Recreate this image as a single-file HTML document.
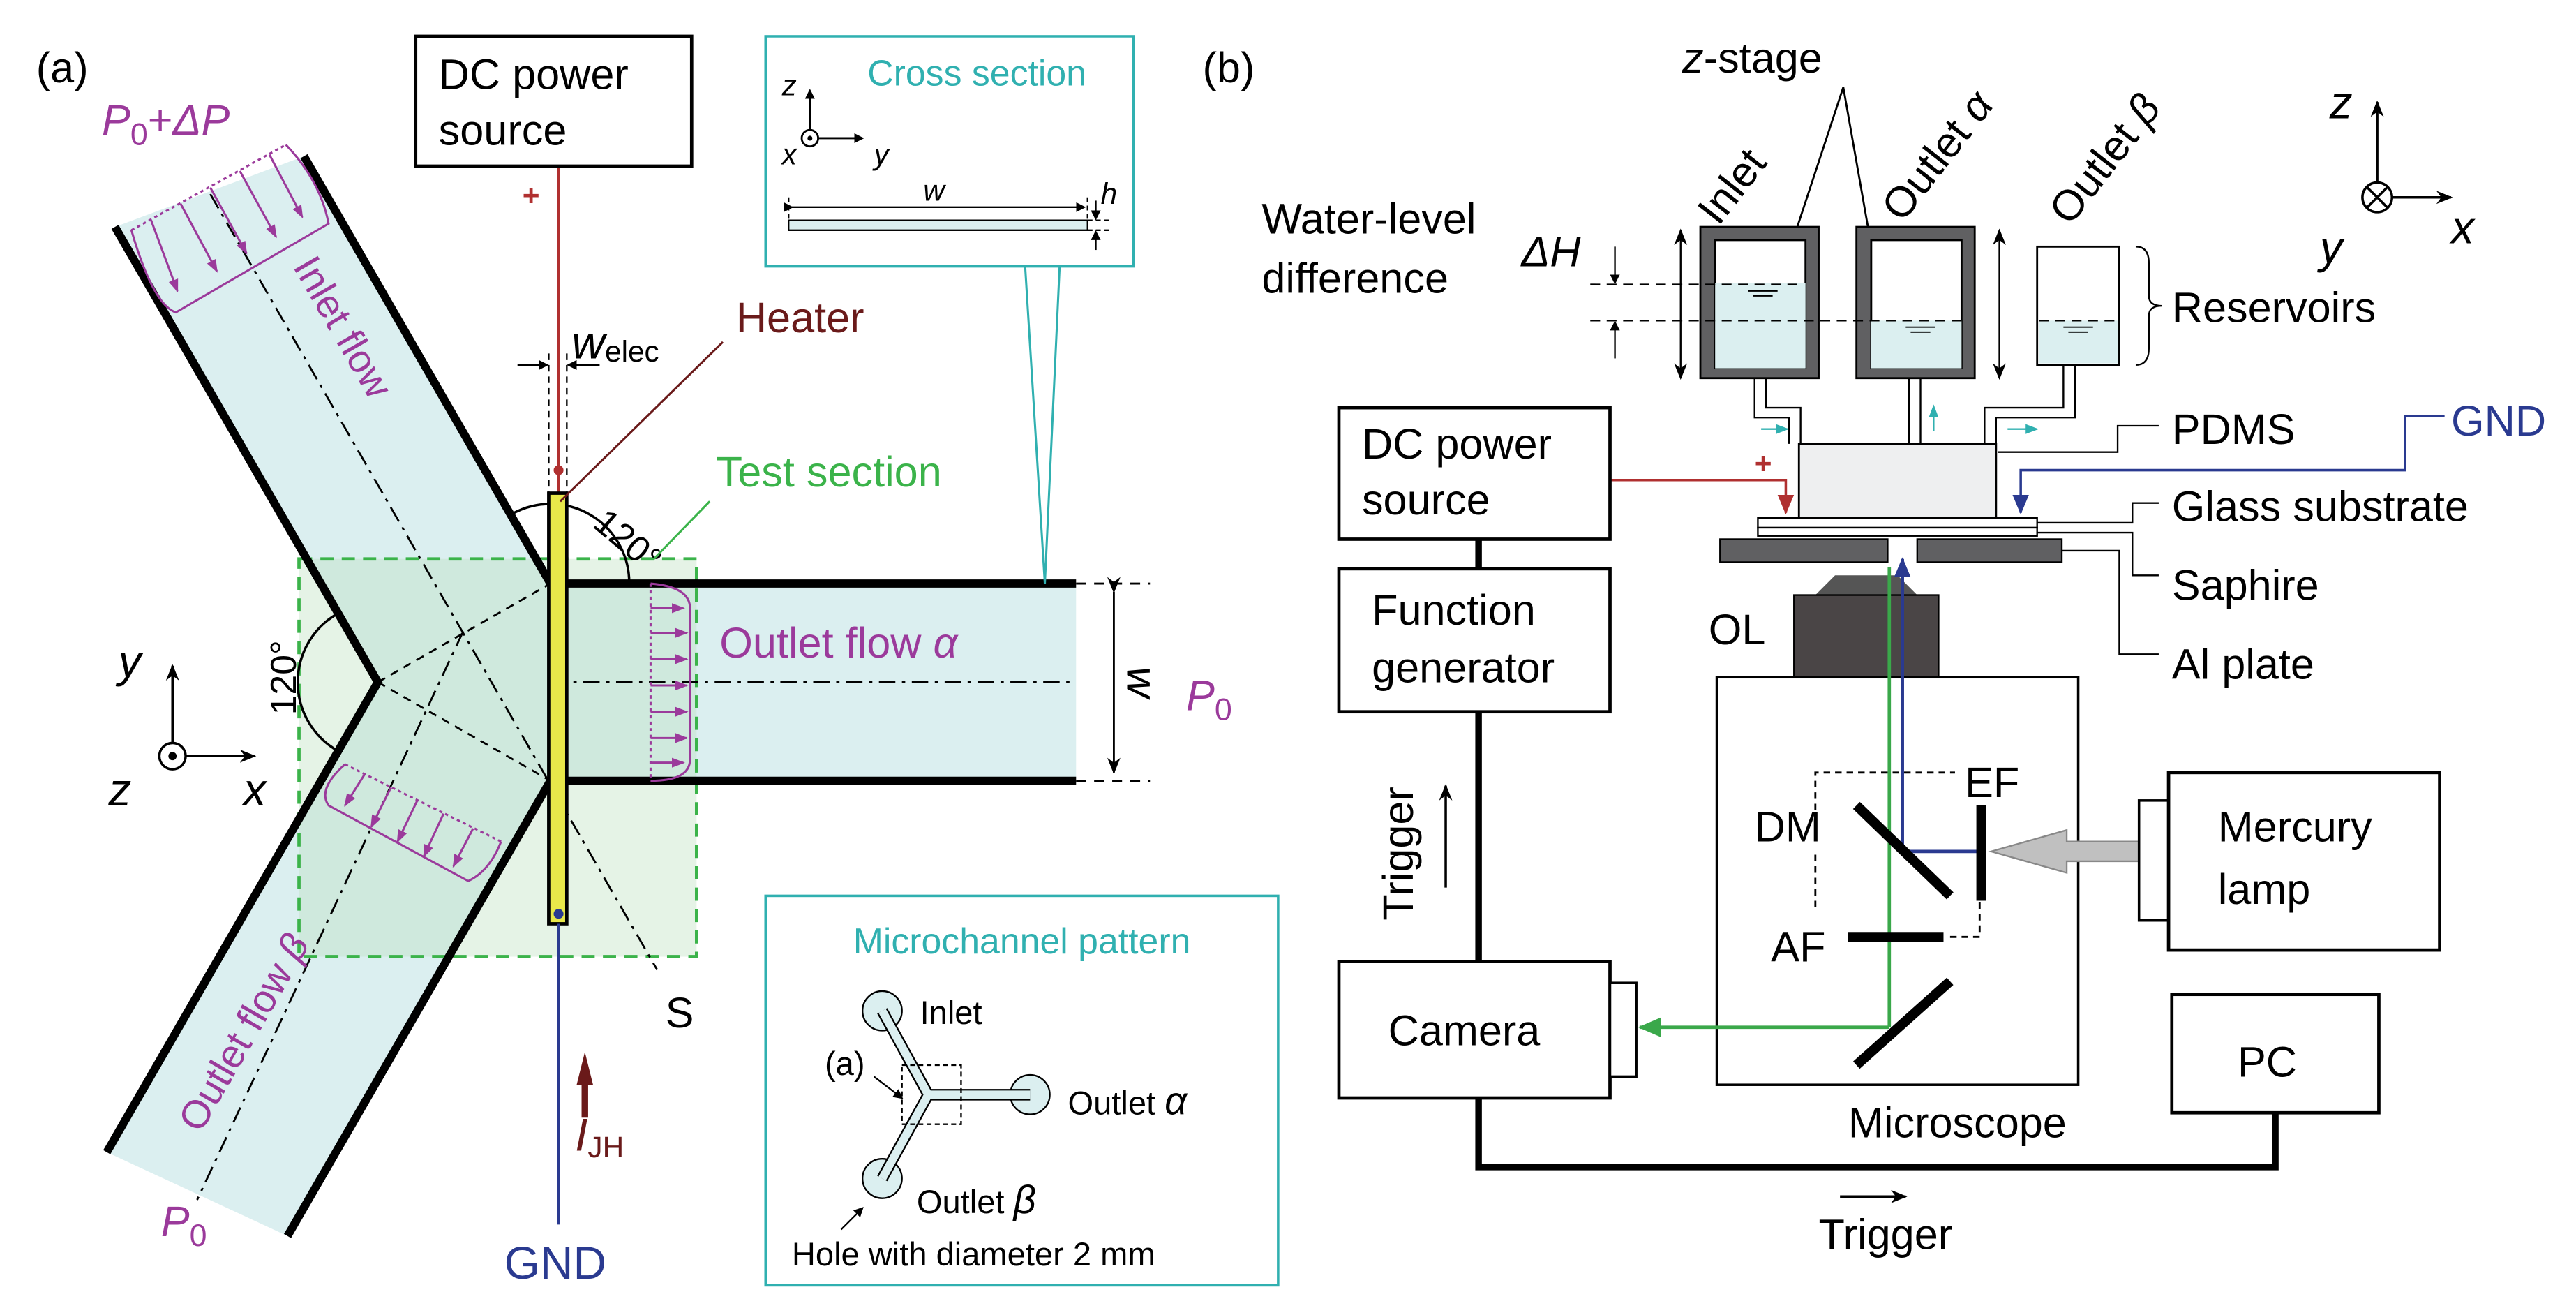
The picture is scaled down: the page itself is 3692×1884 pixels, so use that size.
<!DOCTYPE html>
<html><head><meta charset="utf-8"><style>
html,body{margin:0;padding:0;background:#fff}
svg{display:block}
text{font-family:"Liberation Sans",Arial,sans-serif}
</style></head><body>
<svg width="3692" height="1884" viewBox="0 0 1568 800" xmlns="http://www.w3.org/2000/svg">
<defs>
<marker id="ak" markerWidth="10" markerHeight="10" refX="9" refY="5" orient="auto" markerUnits="userSpaceOnUse"><path d="M0,1 L10,5 L0,9 L3,5z" fill="#000"/></marker>
<marker id="ap" markerWidth="8" markerHeight="8" refX="7" refY="4" orient="auto" markerUnits="userSpaceOnUse"><path d="M0,1 L8,4 L0,7z" fill="#9b3a9b"/></marker>
<marker id="ar" markerWidth="12" markerHeight="12" refX="11" refY="6" orient="auto" markerUnits="userSpaceOnUse"><path d="M0,1 L12,6 L0,11z" fill="#b03030"/></marker>
<marker id="ab" markerWidth="12" markerHeight="12" refX="11" refY="6" orient="auto" markerUnits="userSpaceOnUse"><path d="M0,1 L12,6 L0,11z" fill="#2a3a90"/></marker>
<marker id="ag" markerWidth="14" markerHeight="14" refX="13" refY="7" orient="auto" markerUnits="userSpaceOnUse"><path d="M0,1 L14,7 L0,13z" fill="#3aa84a"/></marker>
<marker id="at" markerWidth="8" markerHeight="8" refX="7" refY="4" orient="auto" markerUnits="userSpaceOnUse"><path d="M0,1 L8,4 L0,7z" fill="#30b0b0"/></marker>
<marker id="as" markerWidth="6" markerHeight="6" refX="5" refY="3" orient="auto" markerUnits="userSpaceOnUse"><path d="M0,0 L6,3 L0,6z" fill="#000"/></marker>
</defs>

<!-- ===== Panel (a) ===== -->
<text x="22" y="50" font-size="26">(a)</text>
<polygon points="70,138 185,95 335,355 655,355 655,475 335,475 175,752 65,701 230,415" fill="#dbeff0"/>
<rect x="182" y="340" width="242" height="242" fill="#bfe0c0" fill-opacity="0.4" stroke="#3bb34a" stroke-width="2" stroke-dasharray="8,5"/>
<g stroke="#000" stroke-width="5" fill="none">
<polyline points="185,95 335,355 655,355"/>
<polyline points="655,475 335,475 175,752"/>
<polyline points="70,138 230,415 65,701"/>
</g>
<g stroke="#000" stroke-width="1.2" fill="none" stroke-dasharray="10,4,2,4">
<line x1="128" y1="118" x2="400" y2="590"/>
<line x1="335" y1="415" x2="655" y2="415"/>
<line x1="282" y1="384" x2="120" y2="730"/>
<line x1="230" y1="415" x2="335" y2="355" stroke-dasharray="5,4"/>
<line x1="230" y1="415" x2="335" y2="475" stroke-dasharray="5,4"/>
</g>
<g stroke="#000" stroke-width="1.2" stroke-dasharray="6,5"><line x1="655" y1="355" x2="700" y2="355"/><line x1="655" y1="475" x2="700" y2="475"/></g>
<line x1="678" y1="360" x2="678" y2="470" stroke="#000" stroke-width="1.2" marker-start="url(#ak)" marker-end="url(#ak)"/>
<text x="0" y="0" font-size="26" font-style="italic" transform="translate(686,415) rotate(90)" text-anchor="middle">w</text>
<text x="722" y="432" font-size="26" font-style="italic" fill="#9b3a9b">P<tspan font-size="19" font-style="normal" dy="6">0</tspan></text>
<!-- arcs -->
<path d="M 311,313 A 48 48 0 0 1 383,355" fill="none" stroke="#000" stroke-width="1.5"/>
<path d="M 206,373 A 48 48 0 0 0 206,457" fill="none" stroke="#000" stroke-width="1.5"/>
<text x="0" y="0" font-size="22" transform="translate(360,320) rotate(40)">120°</text>
<text x="0" y="0" font-size="22" transform="translate(180,435) rotate(-90)">120°</text>
<!-- velocity profiles -->
<g stroke="#9b3a9b" stroke-width="1.3" fill="none">
<path d="M 80,140 Q 93,185 107,190 L 200,136 Q 195,110 174,88"/>
<line x1="80" y1="140" x2="174" y2="88" stroke-dasharray="2,2"/>
<g marker-end="url(#ap)">
<line x1="92" y1="134" x2="108" y2="177"/><line x1="110" y1="124" x2="132" y2="165"/><line x1="128" y1="114" x2="150" y2="154"/><line x1="146" y1="104" x2="168" y2="144"/><line x1="164" y1="94" x2="184" y2="132"/>
</g>
<path d="M 396,355 Q 420,357 420,370 L 420,462 Q 420,475 396,475"/>
<line x1="396" y1="355" x2="396" y2="475" stroke-dasharray="2,2"/>
<g marker-end="url(#ap)"><line x1="396" y1="370" x2="416" y2="370"/><line x1="396" y1="385" x2="418" y2="385"/><line x1="396" y1="401" x2="418" y2="401"/><line x1="396" y1="417" x2="418" y2="417"/><line x1="396" y1="433" x2="418" y2="433"/><line x1="396" y1="449" x2="418" y2="449"/><line x1="396" y1="464" x2="416" y2="464"/></g>
<path d="M 210,465 Q 193,480 200,490 L 285,536 Q 298,530 305,512"/>
<line x1="210" y1="465" x2="305" y2="512" stroke-dasharray="2,2"/>
<g marker-end="url(#ap)"><line x1="222" y1="471" x2="210" y2="490"/><line x1="238" y1="479" x2="226" y2="503"/><line x1="254" y1="487" x2="242" y2="512"/><line x1="270" y1="495" x2="258" y2="521"/><line x1="288" y1="504" x2="276" y2="527"/></g>
</g>
<text x="0" y="0" font-size="24" fill="#9b3a9b" transform="translate(178,162) rotate(60)">Inlet flow</text>
<text x="0" y="0" font-size="24" fill="#9b3a9b" transform="translate(122,690) rotate(-60)">Outlet flow <tspan font-style="italic">β</tspan></text>
<text x="438" y="400" font-size="26" fill="#9b3a9b">Outlet flow <tspan font-style="italic">α</tspan></text>
<text x="62" y="82" font-size="26" font-style="italic" fill="#9b3a9b">P<tspan font-size="19" font-style="normal" dy="6">0</tspan><tspan dy="-6" font-style="normal">+</tspan>ΔP</text>
<text x="98" y="752" font-size="26" font-style="italic" fill="#9b3a9b">P<tspan font-size="19" font-style="normal" dy="6">0</tspan></text>
<!-- heater -->
<line x1="340" y1="101" x2="340" y2="300" stroke="#b03030" stroke-width="2"/>
<text x="318" y="125" font-size="18" fill="#b03030" font-weight="bold">+</text>
<rect x="334" y="300" width="11" height="262" fill="#e8e84a" stroke="#000" stroke-width="2"/>
<circle cx="340" cy="286" r="3" fill="#b03030"/>
<circle cx="340" cy="556" r="3" fill="#2a3a90"/>
<line x1="340" y1="562" x2="340" y2="745" stroke="#2a3a90" stroke-width="2"/>
<text x="338" y="778" font-size="28" fill="#2a3a90" text-anchor="middle">GND</text>
<rect x="253" y="22" width="168" height="79" fill="#fff" stroke="#000" stroke-width="2"/>
<text x="267" y="54" font-size="26">DC power</text><text x="267" y="88" font-size="26">source</text>
<g stroke="#000" stroke-width="1" stroke-dasharray="4,3"><line x1="334" y1="215" x2="334" y2="300"/><line x1="345" y1="215" x2="345" y2="300"/></g>
<line x1="315" y1="222" x2="333" y2="222" stroke="#000" marker-end="url(#as)"/><line x1="365" y1="222" x2="346" y2="222" stroke="#000" marker-end="url(#as)"/>
<text x="348" y="218" font-size="28" font-style="italic">w<tspan font-size="18" font-style="normal" dy="2">elec</tspan></text>
<line x1="341" y1="305" x2="440" y2="208" stroke="#6a1a1a" stroke-width="1.3"/>
<text x="448" y="202" font-size="26" fill="#6a1a1a">Heater</text>
<line x1="398" y1="340" x2="432" y2="305" stroke="#3bb34a" stroke-width="1.3"/>
<text x="436" y="296" font-size="26" fill="#3bb34a">Test section</text>
<text x="405" y="625" font-size="26">S</text>
<path d="M 351,660 L 356,640 L 361,660 L 358,660 L 358,680 L 354,680 L 354,660 Z" fill="#6a1a1a"/>
<text x="350" y="700" font-size="28" font-style="italic" fill="#6a1a1a">I<tspan font-size="18" font-style="normal" dy="4">JH</tspan></text>
<!-- axes -->
<line x1="105" y1="460" x2="105" y2="405" stroke="#000" stroke-width="1.5" marker-end="url(#ak)"/>
<line x1="105" y1="460" x2="155" y2="460" stroke="#000" stroke-width="1.5" marker-end="url(#ak)"/>
<circle cx="105" cy="460" r="8" fill="#fff" stroke="#000" stroke-width="1.5"/><circle cx="105" cy="460" r="2.5" fill="#000"/>
<text x="72" y="412" font-size="28" font-style="italic">y</text>
<text x="148" y="490" font-size="28" font-style="italic">x</text>
<text x="66" y="490" font-size="28" font-style="italic">z</text>
<!-- cross section box -->
<polyline points="624,162 636,355 645,162" fill="none" stroke="#30b0b0" stroke-width="1.3"/>
<rect x="466" y="22" width="224" height="140" fill="#fff" stroke="#30b0b0" stroke-width="1.5"/>
<text x="528" y="52" font-size="22" fill="#30b0b0">Cross section</text>
<line x1="493" y1="84" x2="493" y2="55" stroke="#000" stroke-width="1.2" marker-end="url(#as)"/>
<line x1="493" y1="84" x2="525" y2="84" stroke="#000" stroke-width="1.2" marker-end="url(#as)"/>
<circle cx="493" cy="84" r="5" fill="#fff" stroke="#000" stroke-width="1.2"/><circle cx="493" cy="84" r="1.5" fill="#000"/>
<text x="476" y="58" font-size="18" font-style="italic">z</text><text x="476" y="100" font-size="18" font-style="italic">x</text><text x="532" y="100" font-size="18" font-style="italic">y</text>
<rect x="480" y="134" width="182" height="6" fill="#dbeff0" stroke="#000" stroke-width="1"/>
<line x1="482" y1="126" x2="660" y2="126" stroke="#000" marker-start="url(#as)" marker-end="url(#as)"/>
<g stroke="#000" stroke-dasharray="3,2"><line x1="480" y1="120" x2="480" y2="134"/><line x1="662" y1="120" x2="662" y2="134"/><line x1="662" y1="134" x2="676" y2="134"/><line x1="662" y1="140" x2="676" y2="140"/></g>
<line x1="667" y1="122" x2="667" y2="133" stroke="#000" marker-end="url(#as)"/><line x1="667" y1="152" x2="667" y2="141" stroke="#000" marker-end="url(#as)"/>
<text x="562" y="122" font-size="18" font-style="italic">w</text><text x="670" y="124" font-size="18" font-style="italic">h</text>
<!-- microchannel pattern box -->
<rect x="466" y="545" width="312" height="237" fill="#fff" stroke="#30b0b0" stroke-width="1.5"/>
<text x="622" y="580" font-size="22" fill="#30b0b0" text-anchor="middle">Microchannel pattern</text>
<g fill="#dbeff0" stroke="#000" stroke-width="1">
<circle cx="537" cy="615" r="12"/><circle cx="627" cy="666" r="12"/><circle cx="537" cy="717" r="12"/>
</g>
<g stroke="#000" stroke-width="7" stroke-linecap="butt" fill="none"><polyline points="537,615 565,666 627,666"/><line x1="565" y1="666" x2="537" y2="717"/></g>
<g stroke="#dbeff0" stroke-width="5" fill="none"><polyline points="537,615 565,666 627,666"/><line x1="565" y1="666" x2="537" y2="717"/></g>
<rect x="549" y="648" width="36" height="36" fill="none" stroke="#000" stroke-width="1" stroke-dasharray="3,2"/>
<text x="560" y="623" font-size="20">Inlet</text>
<text x="650" y="678" font-size="20">Outlet <tspan font-style="italic" font-size="24">α</tspan></text>
<text x="558" y="738" font-size="20">Outlet <tspan font-style="italic" font-size="24">β</tspan></text>
<text x="502" y="654" font-size="20">(a)</text>
<line x1="532" y1="655" x2="549" y2="668" stroke="#000" marker-end="url(#as)"/>
<text x="482" y="770" font-size="20">Hole with diameter 2 mm</text>
<line x1="512" y1="748" x2="525" y2="735" stroke="#000" marker-end="url(#as)"/>

<!-- ===== Panel (b) ===== -->
<text x="732" y="50" font-size="26">(b)</text>
<text x="1024" y="44" font-size="26"><tspan font-style="italic">z</tspan>-stage</text>
<polyline points="1094,138 1122,53 1137,138" fill="none" stroke="#000" stroke-width="1.2"/>
<text x="0" y="0" font-size="26" transform="translate(1046,138) rotate(-52)">Inlet</text>
<text x="0" y="0" font-size="26" transform="translate(1158,136) rotate(-52)">Outlet <tspan font-style="italic">α</tspan></text>
<text x="0" y="0" font-size="26" transform="translate(1260,138) rotate(-52)">Outlet <tspan font-style="italic">β</tspan></text>
<text x="768" y="142" font-size="26">Water-level</text><text x="768" y="178" font-size="26">difference</text>
<text x="926" y="162" font-size="26" font-style="italic">ΔH</text>
<!-- reservoirs -->
<g stroke="#000" stroke-width="1.2">
<rect x="1035" y="138" width="72" height="92" fill="#606062"/>
<rect x="1044" y="146" width="55" height="78" fill="#fff"/>
<rect x="1044" y="172" width="55" height="52" fill="#dbeff0" stroke="none"/>
<rect x="1130" y="138" width="72" height="92" fill="#606062"/>
<rect x="1139" y="146" width="55" height="78" fill="#fff"/>
<rect x="1139" y="195" width="55" height="29" fill="#dbeff0" stroke="none"/>
<rect x="1240" y="150" width="50" height="72" fill="#fff"/>
<rect x="1241" y="195" width="48" height="26" fill="#dbeff0" stroke="none"/>
</g>
<g stroke="#000" stroke-width="1" stroke-dasharray="6,4"><line x1="968" y1="173" x2="1098" y2="173"/><line x1="968" y1="195" x2="1195" y2="195"/><line x1="1241" y1="195" x2="1289" y2="195"/></g>
<g stroke="#000" stroke-width="0.8"><line x1="1064" y1="177" x2="1082" y2="177"/><line x1="1067" y1="180" x2="1079" y2="180"/><line x1="1160" y1="199" x2="1178" y2="199"/><line x1="1163" y1="202" x2="1175" y2="202"/><line x1="1256" y1="199" x2="1274" y2="199"/><line x1="1259" y1="202" x2="1271" y2="202"/></g>
<line x1="983" y1="150" x2="983" y2="172" stroke="#000" marker-end="url(#as)"/><line x1="983" y1="218" x2="983" y2="196" stroke="#000" marker-end="url(#as)"/>
<line x1="1023" y1="185" x2="1023" y2="140" stroke="#000" marker-end="url(#ak)"/><line x1="1023" y1="185" x2="1023" y2="230" stroke="#000" marker-end="url(#ak)"/>
<line x1="1217" y1="185" x2="1217" y2="140" stroke="#000" marker-end="url(#ak)"/><line x1="1217" y1="185" x2="1217" y2="230" stroke="#000" marker-end="url(#ak)"/>
<path d="M 1300,150 Q 1308,150 1308,160 L 1308,180 Q 1308,186 1316,186 Q 1308,186 1308,192 L 1308,212 Q 1308,222 1300,222" fill="none" stroke="#000" stroke-width="1"/>
<text x="1322" y="196" font-size="26">Reservoirs</text>
<!-- tubes -->
<g fill="none" stroke="#000" stroke-width="1"><polyline points="1068,230 1068,254 1089,254 1089,270"/><polyline points="1075,230 1075,248 1096,248 1096,270"/>
<polyline points="1162,230 1162,270"/><polyline points="1169,230 1169,270"/>
<polyline points="1256,222 1256,248 1208,248 1208,270"/><polyline points="1263,222 1263,254 1215,254 1215,270"/></g>
<line x1="1072" y1="261" x2="1088" y2="261" stroke="#30b0b0" marker-end="url(#at)"/>
<line x1="1177" y1="262" x2="1177" y2="247" stroke="#30b0b0" marker-end="url(#at)"/>
<line x1="1222" y1="261" x2="1240" y2="261" stroke="#30b0b0" marker-end="url(#at)"/>
<!-- PDMS stack -->
<rect x="1095" y="270" width="120" height="45" fill="#eeeff0" stroke="#000" stroke-width="1.2"/>
<rect x="1070" y="315" width="170" height="6" fill="#fff" stroke="#000" stroke-width="1"/>
<rect x="1070" y="321" width="170" height="5" fill="#fff" stroke="#000" stroke-width="1"/>
<rect x="1047" y="328" width="102" height="14" fill="#606062" stroke="#000" stroke-width="1"/>
<rect x="1167" y="328" width="88" height="14" fill="#606062" stroke="#000" stroke-width="1"/>
<g fill="none" stroke="#000" stroke-width="1"><polyline points="1216,275 1289,275 1289,259 1314,259"/><polyline points="1240,318 1298,318 1298,306 1314,306"/><polyline points="1240,324 1298,324 1298,350 1314,350"/><polyline points="1255,335 1290,335 1290,398 1314,398"/></g>
<text x="1322" y="270" font-size="26">PDMS</text>
<text x="1322" y="317" font-size="26">Glass substrate</text>
<text x="1322" y="365" font-size="26">Saphire</text>
<text x="1322" y="413" font-size="26">Al plate</text>
<polyline points="1488,253 1464,253 1464,286 1230,286 1230,312" fill="none" stroke="#2a3a90" stroke-width="1.5" marker-end="url(#ab)"/>
<text x="1492" y="265" font-size="26" fill="#2a3a90">GND</text>
<polyline points="980,292 1087,292 1087,312" fill="none" stroke="#b03030" stroke-width="1.5" marker-end="url(#ar)"/>
<text x="1068" y="288" font-size="18" fill="#b03030" font-weight="bold">+</text>
<!-- OL -->
<polygon points="1105,362 1117,350 1155,350 1167,362" fill="#555"/>
<rect x="1092" y="362" width="88" height="50" fill="#4a4546" stroke="#000" stroke-width="1"/>
<text x="1040" y="392" font-size="26">OL</text>
<!-- microscope -->
<rect x="1045" y="412" width="220" height="248" fill="#fff" stroke="#000" stroke-width="1.5"/>
<text x="1125" y="692" font-size="26">Microscope</text>
<g fill="none" stroke="#000" stroke-width="1.2" stroke-dasharray="4,3"><polyline points="1105,500 1105,470 1190,470"/><polyline points="1105,520 1105,555"/><polyline points="1187,570 1205,570 1205,548"/></g>
<line x1="1150" y1="345" x2="1150" y2="625" stroke="#3aa84a" stroke-width="2"/>
<line x1="1150" y1="625" x2="998" y2="625" stroke="#3aa84a" stroke-width="2" marker-end="url(#ag)"/>
<polyline points="1205,518 1158,518 1158,340" fill="none" stroke="#2a3a90" stroke-width="2" marker-end="url(#ab)"/>
<line x1="1130" y1="490" x2="1187" y2="545" stroke="#000" stroke-width="6"/>
<line x1="1130" y1="648" x2="1187" y2="597" stroke="#000" stroke-width="6"/>
<line x1="1206" y1="490" x2="1206" y2="548" stroke="#000" stroke-width="6"/>
<line x1="1125" y1="570" x2="1183" y2="570" stroke="#000" stroke-width="6"/>
<polygon points="1302,512 1258,512 1258,505 1212,518 1258,531 1258,524 1302,524" fill="#c0c0c0" stroke="#888" stroke-width="1"/>
<text x="1068" y="512" font-size="26">DM</text>
<text x="1196" y="485" font-size="26">EF</text>
<text x="1078" y="585" font-size="26">AF</text>
<!-- boxes -->
<rect x="815" y="248" width="165" height="80" fill="#fff" stroke="#000" stroke-width="2"/>
<text x="829" y="279" font-size="26">DC power</text><text x="829" y="313" font-size="26">source</text>
<rect x="815" y="346" width="165" height="87" fill="#fff" stroke="#000" stroke-width="2"/>
<text x="835" y="380" font-size="26">Function</text><text x="835" y="415" font-size="26">generator</text>
<line x1="900" y1="328" x2="900" y2="346" stroke="#000" stroke-width="4"/>
<line x1="900" y1="433" x2="900" y2="585" stroke="#000" stroke-width="4"/>
<rect x="815" y="585" width="165" height="83" fill="#fff" stroke="#000" stroke-width="2"/>
<rect x="980" y="598" width="16" height="57" fill="#fff" stroke="#000" stroke-width="1.5"/>
<text x="845" y="636" font-size="26">Camera</text>
<rect x="1302" y="487" width="18" height="73" fill="#fff" stroke="#000" stroke-width="1.5"/>
<rect x="1320" y="470" width="165" height="108" fill="#fff" stroke="#000" stroke-width="2"/>
<text x="1350" y="512" font-size="26">Mercury</text><text x="1350" y="550" font-size="26">lamp</text>
<rect x="1322" y="605" width="126" height="72" fill="#fff" stroke="#000" stroke-width="2"/>
<text x="1362" y="655" font-size="26">PC</text>
<polyline points="900,668 900,710 1385,710 1385,677" fill="none" stroke="#000" stroke-width="4"/>
<line x1="1120" y1="728" x2="1160" y2="728" stroke="#000" stroke-width="1.5" marker-end="url(#ak)"/>
<text x="1107" y="760" font-size="26">Trigger</text>
<line x1="880" y1="540" x2="880" y2="478" stroke="#000" stroke-width="1.5" marker-end="url(#ak)"/>
<text x="0" y="0" font-size="26" transform="translate(860,560) rotate(-90)">Trigger</text>
<!-- axes b -->
<line x1="1447" y1="120" x2="1447" y2="62" stroke="#000" stroke-width="1.5" marker-end="url(#ak)"/>
<line x1="1447" y1="120" x2="1492" y2="120" stroke="#000" stroke-width="1.5" marker-end="url(#ak)"/>
<circle cx="1447" cy="120" r="9" fill="#fff" stroke="#000" stroke-width="1.5"/>
<path d="M1441,114 L1453,126 M1453,114 L1441,126" stroke="#000" stroke-width="1.5"/>
<text x="1418" y="72" font-size="28" font-style="italic">z</text>
<text x="1412" y="160" font-size="28" font-style="italic">y</text>
<text x="1492" y="148" font-size="28" font-style="italic">x</text>
</svg>
</body></html>
